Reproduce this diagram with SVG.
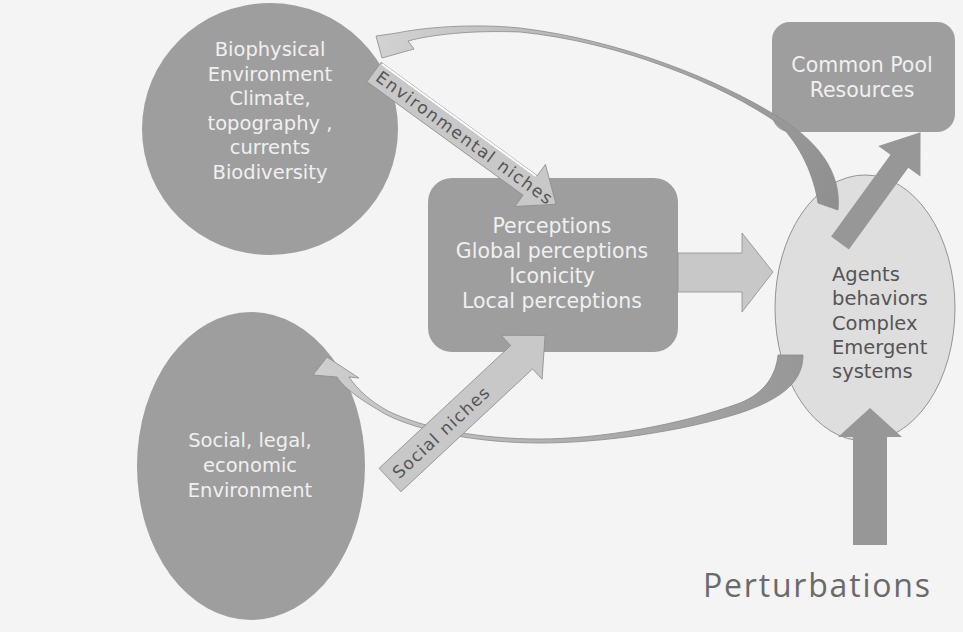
<svg xmlns="http://www.w3.org/2000/svg" width="963" height="632" viewBox="0 0 963 632">
<defs>
<style>
.node{fill:#9e9e9e;}
.nt{font-family:"DejaVu Sans","Liberation Sans",sans-serif;font-size:19.5px;fill:#f0f0f0;text-anchor:middle;}
.at{font-family:"DejaVu Sans","Liberation Sans",sans-serif;font-size:19.5px;fill:#555555;}
.lt{font-family:"DejaVu Sans","Liberation Sans",sans-serif;font-size:17px;fill:#555555;}
.light{fill:#c8c8c8;stroke:#8e8e8e;stroke-width:0.8;}
.dark{fill:#979797;}
</style>
<linearGradient id="gTop" gradientUnits="userSpaceOnUse" x1="838" y1="205" x2="380" y2="40">
<stop offset="0" stop-color="#8f8f8f"/>
<stop offset="0.5" stop-color="#ababab"/>
<stop offset="1" stop-color="#d2d2d2"/>
</linearGradient>
<linearGradient id="gBot" gradientUnits="userSpaceOnUse" x1="803" y1="360" x2="315" y2="370">
<stop offset="0" stop-color="#979797"/>
<stop offset="0.5" stop-color="#b0b0b0"/>
<stop offset="1" stop-color="#cfcfcf"/>
</linearGradient>
</defs>
<rect x="0" y="0" width="963" height="632" fill="#f4f4f4"/>

<g id="biophysical">
<ellipse class="node" cx="270" cy="129" rx="128" ry="126"/>
<text class="nt" x="270" y="56">Biophysical</text>
<text class="nt" x="270" y="81">Environment</text>
<text class="nt" x="270" y="105">Climate,</text>
<text class="nt" x="270" y="130">topography ,</text>
<text class="nt" x="270" y="154">currents</text>
<text class="nt" x="270" y="179">Biodiversity</text>
</g>

<g id="social">
<ellipse class="node" cx="251" cy="466" rx="114" ry="154"/>
<text class="nt" x="250" y="447">Social, legal,</text>
<text class="nt" x="250" y="472">economic</text>
<text class="nt" x="250" y="497">Environment</text>
</g>

<g id="perceptions">
<rect class="node" x="428" y="178" width="250" height="174" rx="24" fill="#a2a2a2"/>
<text class="nt" x="552" y="233" style="font-size:20.5px">Perceptions</text>
<text class="nt" x="552" y="258" style="font-size:20.5px">Global perceptions</text>
<text class="nt" x="552" y="283" style="font-size:20.5px">Iconicity</text>
<text class="nt" x="552" y="308" style="font-size:20.5px">Local perceptions</text>
</g>

<g id="common-pool">
<rect class="node" x="772" y="22" width="183" height="110" rx="18"/>
<text class="nt" x="862" y="72" style="font-size:20.5px">Common Pool</text>
<text class="nt" x="862" y="97" style="font-size:20.5px">Resources</text>
</g>

<g id="agents">
<ellipse cx="865" cy="308" rx="90" ry="133" fill="#dedede" stroke="#8a8a8a" stroke-width="0.9"/>
<text class="at" x="832" y="281">Agents</text>
<text class="at" x="832" y="305">behaviors</text>
<text class="at" x="832" y="330">Complex</text>
<text class="at" x="832" y="354">Emergent</text>
<text class="at" x="832" y="378">systems</text>
</g>

<g id="perturbations">
<text x="703" y="597" textLength="227" lengthAdjust="spacing" style="font-family:'Open Sans','DejaVu Sans',sans-serif;font-size:32px;fill:#6a6a6a;">Perturbations</text>
</g>

<g id="connectors">
<path d="M838,210 C842,170 815,140 780,118 C720,80 620,40 520,28 C470,23 420,28 397,33 L376,36 L382,58 L414,49 L408,41 C430,35 470,30 520,32 C620,42 722,84 779,124 C801,146 814,176 818,203 Z" fill="url(#gTop)" stroke="#8a8a8a" stroke-width="0.8"/>
<path d="M778,355 L803,355 C803,380 785,398 740,413 C680,432 600,443 540,443 C480,443 420,432 385,414 C365,402 345,390 337,377 L313,375 L327,357 L359,378 L349,377 C358,390 370,401 388,411 C425,429 480,439 540,439 C600,439 680,425 740,403 C765,393 776,375 778,355 Z" fill="url(#gBot)" stroke="#8a8a8a" stroke-width="0.8"/>
<polygon class="light" points="678,253 742,253 742,233 773,272 742,312 742,292 678,292"/>
<polygon class="dark" transform="translate(840,243) rotate(-54)" points="0,-11 101,-11 101,-26 137,0 101,26 101,11 0,11"/>
<polygon class="dark" points="853,545 853,437 838,437 870,408 902,437 887,437 887,545"/>
<g transform="translate(374,72) rotate(36)">
<polygon class="light" points="0,-12 193,-12 193,-26 225,0 193,26 193,12 0,12"/>
<line x1="2" y1="-11" x2="192" y2="-11" stroke="#ffffff" stroke-width="2"/>
<text class="lt" x="5" y="6" textLength="213" lengthAdjust="spacing">Environmental niches</text>
</g>
<g transform="translate(390,480) rotate(-43)">
<polygon class="light" points="0,-16 180,-16 180,-30 212,0 180,30 180,16 0,16"/>
<text class="lt" x="7" y="6" textLength="125" lengthAdjust="spacing">Social niches</text>
</g>
</g>
</svg>
